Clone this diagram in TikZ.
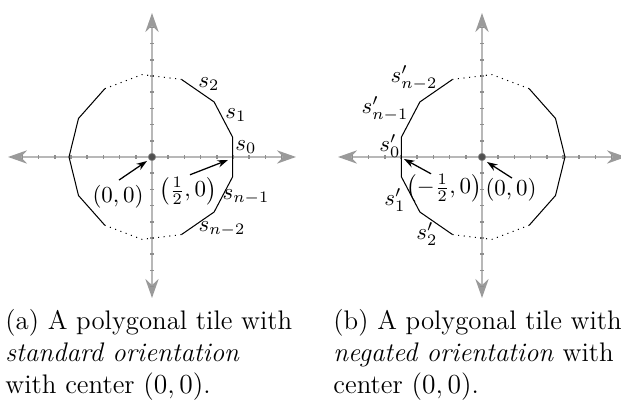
\documentclass[tikz,border=0pt]{standalone}
\usetikzlibrary{arrows.meta,calc}
\definecolor{axisgray}{HTML}{B8B8B8}
\definecolor{tipgray}{HTML}{9A9A9A}
\definecolor{tickgray}{HTML}{8E8E8E}
\definecolor{dotgray}{HTML}{505050}
\begin{document}
\begin{tikzpicture}[x=0.436pt,y=0.436pt,
  axline/.style={axisgray, line width=0.8pt,
    {Stealth[length=8.3pt,width=5.8pt,color=tipgray]}-{Stealth[length=8.3pt,width=5.8pt,color=tipgray]}},
  axtick/.style={tickgray, line width=0.75pt},
  polyside/.style={black, line width=0.45pt, line join=round},
  dotside/.style={black, line width=0.45pt, dotted},
  lbl/.style={inner sep=0pt},
  ptr/.style={black, line width=0.55pt, -{Stealth[length=4.6pt,width=3.2pt]}},
  cdot/.style={circle, inner sep=0pt, minimum size=3.2pt, fill=dotgray, draw=gray, line width=0.3pt},
  captext/.style={anchor=north west, inner sep=0pt, align=left, font=\fontsize{11.7}{14}\selectfont},
]
\useasboundingbox (0,0) rectangle (621,-401);
\clip (0,0) rectangle (621,-401);

% axes and ticks
\foreach \cx in {152,482}{
  \draw[axline] ({\cx-144},-157) -- ({\cx+144},-157);
  \draw[axline] (\cx,-298) -- (\cx,-13);
  \foreach \i in {-8,...,-1,1,2,...,8}{
    \draw[axtick] ({\cx+\i*16.2},-155.3) -- ({\cx+\i*16.2},-158.7);
    \draw[axtick] ({\cx-1.7},{-157+\i*16.2}) -- ({\cx+1.7},{-157+\i*16.2});
  }
}

% polygon vertices
\begin{scope}[shift={(152,-157)}]
  \foreach \k in {0,...,12}{\coordinate (a\k) at ({180-\k*360/13}:83);}
\end{scope}
\begin{scope}[shift={(482,-157)}]
  \foreach \k in {0,...,12}{\coordinate (b\k) at ({\k*360/13}:83);}
\end{scope}

% left tile (standard orientation)
\draw[polyside] (a0) -- (a1) -- (a2);
\draw[dotside] (a2) -- (a3) -- (a4);
\draw[polyside] (a4) -- (a5) -- (a6) -- (a7) -- (a8) -- (a9);
\draw[dotside] (a9) -- (a10) -- (a11);
\draw[polyside] (a11) -- (a12) -- (a0);

% right tile (negated orientation)
\draw[polyside] (b0) -- (b1) -- (b2);
\draw[dotside] (b2) -- (b3) -- (b4);
\draw[polyside] (b4) -- (b5) -- (b6) -- (b7) -- (b8) -- (b9);
\draw[dotside] (b9) -- (b10) -- (b11);
\draw[polyside] (b11) -- (b12) -- (b0);

% centre dots
\node[cdot] (ca) at (152,-157) {};
\node[cdot] (cb) at (482,-157) {};

% left labels
\node[lbl] (sa2) at (209,-84) {$s_2$};
\node[lbl] (sa1) at (236,-115) {$s_1$};
\node[lbl] (sa0) at (246,-147) {$s_0$};
\node[lbl] (san1) at (246,-197) {$s_{n-1}$};
\node[lbl] (san2) at (222,-229) {$s_{n-2}$};
\node[lbl] (oa) at (118,-197) {$(0,0)$};
\node[lbl] (ha) at (188,-191) {$\left(\frac{1}{2},0\right)$};
\coordinate (toa) at (147,-161);
\coordinate (tha) at (228,-160);
\draw[ptr] ($(oa.north)+(1,5)$) -- (toa);
\draw[ptr] ($(ha.north)+(2,2)$) -- (tha);

% right labels
\node[lbl] (sbn2) at (414,-78) {$s'_{n-2}$};
\node[lbl] (sbn1) at (385,-109) {$s'_{n-1}$};
\node[lbl] (sb0) at (390,-146) {$s'_0$};
\node[lbl] (sb1) at (395,-200) {$s'_1$};
\node[lbl] (sb2) at (427,-234) {$s'_2$};
\node[lbl] (hb) at (444,-188) {$\left(-\frac{1}{2},0\right)$};
\node[lbl] (ob) at (511,-190) {$(0,0)$};
\coordinate (thb) at (404,-159);
\coordinate (tob) at (487,-162);
\draw[ptr] ($(hb.north)+(-13,0)$) -- (thb);
\draw[ptr] ($(ob.north)+(1,0)$) -- (tob);

% captions
\node[captext] (capa) at (5,-309) {(a) A polygonal tile with\\ \textit{standard orientation}\\ with center $(0,0)$.};
\node[captext] (capb) at (333,-309) {(b) A polygonal tile with\\ \textit{negated orientation} with\\ center $(0,0)$.};
\end{tikzpicture}
\end{document}
